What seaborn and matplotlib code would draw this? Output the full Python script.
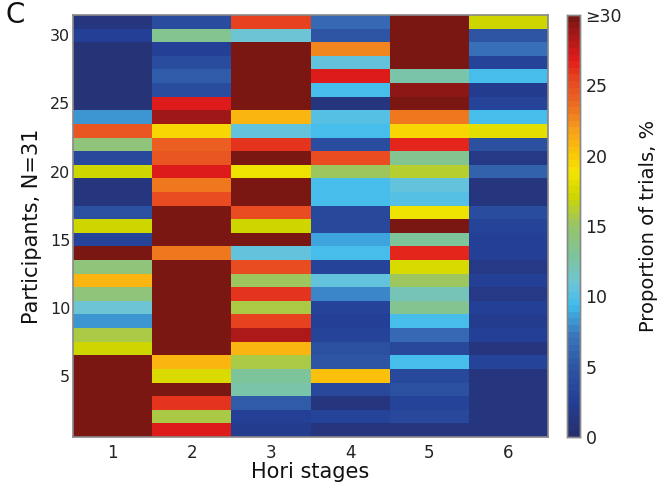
import numpy as np
import pandas as pd
import matplotlib
matplotlib.use("Agg")
import matplotlib.pyplot as plt
from matplotlib.colors import LinearSegmentedColormap
import seaborn as sns

# Participants 1..31 (bottom to top), values in % of trials (>=30 shown as 30)
stages = ["1", "2", "3", "4", "5", "6"]
participants = list(range(1, 32))
stage1 = [30, 30, 30, 30, 30, 30, 17, 15.5, 8, 11, 14.5, 21, 14.5, 30, 3, 17, 4.5, 1, 1, 17,
          3.5, 14.5, 24.5, 8, 0.8, 0.8, 0.8, 0.8, 0.8, 2.5, 1]
stage2 = [27, 15.5, 26, 30, 17.5, 21, 30, 30, 30, 30, 30, 30, 30, 23, 30, 30, 30, 25, 23, 27,
          24.5, 24, 19.5, 29, 27, 4, 5.5, 4, 2.5, 13.5, 4]
stage3 = [2, 2.5, 5.5, 12.5, 13, 15.5, 21, 28.5, 25.5, 15.5, 26, 15, 25, 10.5, 30, 17, 25, 30, 30, 18.5,
          30, 26, 10.5, 21, 30, 30, 30, 30, 30, 11, 25.5]
stage4 = [1, 3, 1, 3.5, 20.5, 5, 4.5, 3, 2.5, 3, 7.5, 10.5, 3, 9.5, 8.5, 3.5, 3.5, 9.5, 9.5, 15,
          25, 4, 9.5, 10.3, 1, 9.5, 27, 10.5, 22.5, 5, 6.5]
stage5 = [1, 3.5, 3, 4.5, 3.5, 9.5, 3.5, 6.5, 9.5, 13.5, 12, 15, 17.5, 26.5, 13, 30, 18.5, 10, 10.5, 16,
          13.5, 26.5, 19.5, 23, 30, 29.5, 12.5, 30, 30, 30, 30]
stage6 = [1, 1, 1, 1, 1, 3, 1, 2.5, 2, 2.5, 1.5, 2.5, 1.5, 2.5, 2.5, 3, 4, 1, 1, 6,
          1.5, 4.5, 18, 9.5, 3, 2, 9.5, 3, 7, 5, 17]
ytick_vals = [5, 10, 15, 20, 25, 30]
cbar_ticks = [0, 5, 10, 15, 20, 25, 30]
cbar_labels = ["0", "5", "10", "15", "20", "25", "\u226530"]

df = pd.DataFrame({s: v for s, v in zip(stages, [stage1, stage2, stage3, stage4, stage5, stage6])},
                  index=participants)
df = df.iloc[::-1]  # top row = participant 31

anchors = [
    (0.00, "#27306e"), (0.08, "#233f96"), (0.16, "#2e55a3"), (0.24, "#3a78be"),
    (0.31, "#40bcee"), (0.36, "#6cc5d8"), (0.43, "#7ec49a"), (0.50, "#98c46a"),
    (0.57, "#cdd600"), (0.63, "#f5e500"), (0.68, "#fbc20a"), (0.73, "#f7a01a"),
    (0.80, "#ec6622"), (0.86, "#e6401f"), (0.90, "#e31b1b"), (0.95, "#b01818"),
    (1.00, "#7b1712"),
]
cmap = LinearSegmentedColormap.from_list("custom_jet", anchors, N=64)

sns.set_theme(style="white")
plt.rcParams['font.family'] = ['DejaVu Sans']

fig = plt.figure(figsize=(6.67, 4.93), dpi=100)
ax = fig.add_axes([73/667, 56/493, 475/667, 422/493])
cax = fig.add_axes([567/667, 56/493, 13/667, 422/493])

sns.heatmap(df, ax=ax, cbar_ax=cax, cmap=cmap, vmin=0, vmax=30,
            xticklabels=stages, yticklabels=False)

nrows = len(participants)
ax.set_yticks([nrows - p + 0.5 for p in ytick_vals])
ax.set_yticklabels([str(p) for p in ytick_vals], rotation=0, fontsize=11.5, color="#222222")
ax.set_xticklabels(stages, rotation=0, fontsize=12, color="#222222")
ax.tick_params(axis="y", length=0, pad=2)
ax.tick_params(axis="x", length=0, pad=5)
ax.set_xlabel("Hori stages", fontsize=15, color="#111111", labelpad=0)
ax.set_ylabel("Participants, N=31", fontsize=15, color="#111111", labelpad=6)
for sp in ax.spines.values():
    sp.set_visible(True)
    sp.set_color("#888888")
    sp.set_linewidth(1.2)

cax.set_yticks(cbar_ticks)
cax.set_yticklabels(cbar_labels, fontsize=12.5, color="#222222")
cax.tick_params(axis="y", length=0, pad=4)
cax.set_ylabel("Proportion of trials, %", fontsize=14, color="#111111", labelpad=12)
for sp in cax.spines.values():
    sp.set_visible(True)
    sp.set_color("#888888")
    sp.set_linewidth(1.0)

fig.text(0.008, 0.998, "C", fontsize=20, ha="left", va="top", color="#111111")

fig.savefig("out.png", dpi=100)
